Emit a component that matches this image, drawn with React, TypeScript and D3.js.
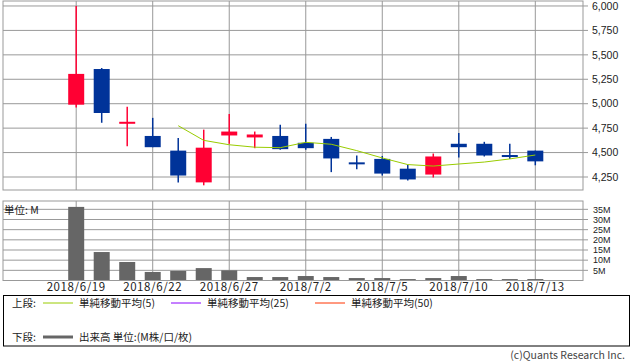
import React from 'react';
import * as d3 from 'd3';

const dates = [
  '2018/6/19', '2018/6/20', '2018/6/21', '2018/6/22', '2018/6/25', '2018/6/26', '2018/6/27',
  '2018/6/28', '2018/6/29', '2018/7/2', '2018/7/3', '2018/7/4', '2018/7/5', '2018/7/6',
  '2018/7/9', '2018/7/10', '2018/7/11', '2018/7/12', '2018/7/13',
];
const opens = [4990, 5355, 4795, 4670, 4520, 4195, 4675, 4655, 4670, 4600, 4640, 4400, 4435, 4335, 4275, 4590, 4590, 4475, 4520];
const highs = [6000, 5365, 4970, 4855, 4650, 4735, 4895, 4715, 4785, 4795, 4660, 4470, 4465, 4375, 4490, 4700, 4610, 4590, 4520];
const lows = [4960, 4805, 4565, 4555, 4195, 4165, 4590, 4545, 4530, 4530, 4300, 4330, 4265, 4215, 4245, 4450, 4460, 4435, 4370];
const closes = [5305, 4905, 4815, 4555, 4265, 4550, 4715, 4685, 4535, 4545, 4440, 4390, 4285, 4225, 4460, 4555, 4470, 4460, 4410];
const volumes = [36.2, 14.0, 9.1, 4.2, 4.7, 6.1, 5.0, 1.7, 1.7, 2.2, 1.7, 1.2, 1.2, 0.7, 1.2, 2.2, 0.7, 0.7, 0.7];
const ma5 = [null, null, null, null, 4775, 4625, 4580, 4555, 4550, 4605, 4585, 4520, 4445, 4377, 4362, 4383, 4403, 4435, 4475];

const priceTicks = [4250, 4500, 4750, 5000, 5250, 5500, 5750, 6000];
const volumeTicks = [5, 10, 15, 20, 25, 30, 35];
const labelDates = ['2018/6/19', '2018/6/22', '2018/6/27', '2018/7/2', '2018/7/5', '2018/7/10', '2018/7/13'];

const legendTop = [
  { label: '単純移動平均(5)', color: '#99cc00', x: 43 },
  { label: '単純移動平均(25)', color: '#8a00ff', x: 171 },
  { label: '単純移動平均(50)', color: '#ff3300', x: 315 },
];

const UP = '#ff0033';
const DOWN = '#003399';
const GRID = '#999999';
const FONT = '"Noto Sans CJK JP", "DejaVu Sans", sans-serif';
const NUM_FONT = '"Liberation Sans", Arial, sans-serif';

const App = () => {
  const left = 3;
  const right = 583;
  const pTop = 1;
  const pBottom = 190;
  const vTop = 201;
  const vBottom = 280.5;

  const x = d3.scaleLinear().domain([-2.87, 19.87]).range([left, right]);
  const y = d3.scaleLinear().domain([4117, 6051]).range([pBottom, pTop]);
  const yv = d3.scaleLinear().domain([0, 39.1]).range([vBottom, vTop]);
  const bodyW = 16;

  const maLine = d3
    .line<number | null>()
    .defined((d) => d != null)
    .x((d, i) => x(i))
    .y((d) => y(d as number))(ma5);

  const fmt = d3.format(',');

  return (
    <svg width={638} height={362} style={{ position: 'absolute', left: 0, top: 0, background: '#fff' }} fontFamily={FONT}>
      {/* price panel grid */}
      {priceTicks.map((t) => (
        <g key={t}>
          <line x1={left} x2={right + 5} y1={y(t)} y2={y(t)} stroke={GRID} strokeWidth={1} />
          <text x={592} y={y(t)} dy="0.36em" fontSize={10.5} fontFamily={NUM_FONT} fill="#222">{fmt(t)}</text>
        </g>
      ))}
      {labelDates.map((d) => {
        const xi = x(dates.indexOf(d));
        return (
          <g key={d}>
            <line x1={xi} x2={xi} y1={pTop} y2={pBottom} stroke={GRID} strokeWidth={1} />
            <line x1={xi} x2={xi} y1={vTop} y2={vBottom} stroke={GRID} strokeWidth={1} />
            <text x={xi} y={291} textAnchor="middle" fontSize={11.5} fill="#222" letterSpacing={0.6}>{d}</text>
          </g>
        );
      })}
      <rect x={left} y={pTop} width={right - left} height={pBottom - pTop} fill="none" stroke={GRID} strokeWidth={1} />

      {/* candles */}
      {dates.map((d, i) => {
        const up = closes[i] >= opens[i];
        const c = up ? UP : DOWN;
        const top = y(Math.max(opens[i], closes[i]));
        const bot = y(Math.min(opens[i], closes[i]));
        return (
          <g key={d}>
            <line x1={x(i)} x2={x(i)} y1={y(highs[i])} y2={y(lows[i])} stroke={c} strokeWidth={1.5} />
            <rect x={x(i) - bodyW / 2} y={top} width={bodyW} height={Math.max(bot - top, 2)} fill={c} />
          </g>
        );
      })}
      <path d={maLine || ''} fill="none" stroke="#99cc00" strokeWidth={1} />

      {/* volume panel */}
      {volumeTicks.map((t) => (
        <g key={t}>
          <line x1={left} x2={right + 5} y1={yv(t)} y2={yv(t)} stroke={GRID} strokeWidth={1} />
          <text x={593} y={yv(t)} dy="0.36em" fontSize={9} fontFamily={NUM_FONT} fill="#222">{`${t}M`}</text>
        </g>
      ))}
      {volumes.map((v, i) => (
        <rect key={dates[i]} x={x(i) - bodyW / 2} y={yv(v)} width={bodyW} height={vBottom - yv(v)} fill="#666666" />
      ))}
      <rect x={left} y={vTop} width={right - left} height={vBottom - vTop} fill="none" stroke={GRID} strokeWidth={1} />
      <text x={4} y={210} dy="0.35em" fontSize={10.5} fill="#222">単位: M</text>

      {/* legend */}
      <rect x={3.5} y={295.5} width={626} height={50.5} fill="none" stroke="#000" strokeWidth={1} />
      <text x={12} y={303} dy="0.35em" fontSize={10.5} fill="#222">上段:</text>
      {legendTop.map((l) => (
        <g key={l.label}>
          <line x1={l.x} x2={l.x + 30} y1={303} y2={303} stroke={l.color} strokeWidth={1} />
          <text x={l.x + 36} y={303} dy="0.35em" fontSize={10.5} fill="#222">{l.label}</text>
        </g>
      ))}
      <text x={12} y={337} dy="0.35em" fontSize={10.5} fill="#222">下段:</text>
      <line x1={43} x2={73} y1={337} y2={337} stroke="#666666" strokeWidth={3} />
      <text x={79} y={337} dy="0.35em" fontSize={10.5} fill="#222">出来高 単位:(M株/口/枚)</text>

      <text x={625} y={355} dy="0.35em" textAnchor="end" fontSize={10.5} fill="#444">(c)Quants Research Inc.</text>
    </svg>
  );
};

export default App;
